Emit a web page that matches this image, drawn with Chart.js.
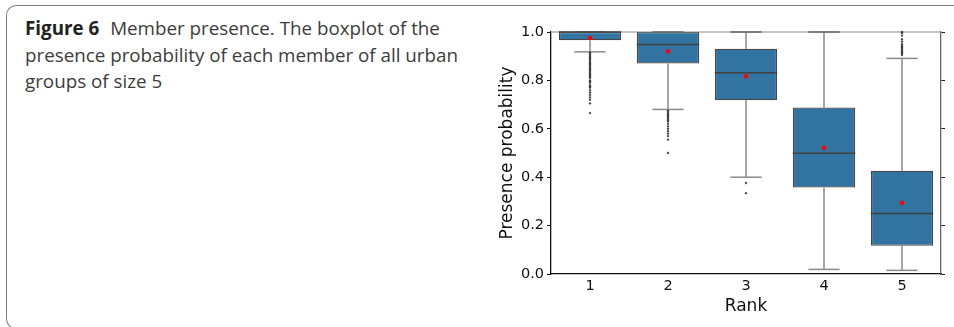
<!DOCTYPE html>
<html>
<head>
<meta charset="utf-8">
<script src="https://cdn.jsdelivr.net/npm/chart.js@4/dist/chart.umd.min.js"></script>
<style>
  html, body { margin: 0; padding: 0; background: #fff; }
  body { width: 954px; height: 327px; position: relative; overflow: hidden; }
  #frame {
    position: absolute; left: 6px; top: 5px; width: 1000px; height: 322px;
    border: 1.3px solid #7d7d7d; border-right: none;
    border-radius: 10px 0 0 10px;
  }
  #caption {
    position: absolute; left: 25px; top: 15.3px;
    font-family: "Open Sans", sans-serif; font-size: 18.8px; line-height: 26.5px;
    color: #3c3c3c; white-space: nowrap;
  }
  #caption b { font-weight: 700; color: #222; margin-right: 6px; }
  #wrap { position: absolute; left: 0; top: 0; width: 954px; height: 327px; }
</style>
</head>
<body>
<div id="frame"></div>
<div id="caption"><b>Figure 6</b> Member presence. The boxplot of the<br>presence probability of each member of all urban<br>groups of size 5</div>
<div id="wrap"><canvas id="chart"></canvas></div>
<script>
// Boxplot summary per rank
const ranks = ['1', '2', '3', '4', '5'];
const q1 = [0.966, 0.870, 0.718, 0.357, 0.117];
const q3 = [1.000, 1.000, 0.931, 0.688, 0.427];
const medians = [1.000, 0.948, 0.832, 0.499, 0.250];
const means = [0.975, 0.920, 0.817, 0.522, 0.294];
const whiskerLow = [0.918, 0.680, 0.400, 0.019, 0.015];
const whiskerHigh = [1.000, 1.000, 1.000, 1.000, 0.891];

// Fliers
const fliers1 = [0.915, 0.91, 0.905, 0.90, 0.895, 0.89, 0.885, 0.88, 0.875, 0.87, 0.865, 0.86,
  0.855, 0.85, 0.845, 0.84, 0.835, 0.83, 0.825, 0.82, 0.815, 0.81, 0.80, 0.795, 0.79, 0.78,
  0.775, 0.77, 0.76, 0.75, 0.74, 0.73, 0.72, 0.705, 0.665];
const fliers2 = [0.675, 0.67, 0.665, 0.66, 0.655, 0.65, 0.645, 0.64, 0.635, 0.63, 0.62, 0.61,
  0.60, 0.59, 0.58, 0.57, 0.555, 0.50];
const fliers3 = [0.376, 0.334];
const fliers4 = [];
const fliers5 = [1.0, 0.995, 0.985, 0.97, 0.96, 0.95, 0.945, 0.94, 0.935, 0.93, 0.925, 0.92,
  0.915, 0.91, 0.905];

const yTicks = [0, 0.2, 0.4, 0.6, 0.8, 1.0];

const flierPoints = [];
[fliers1, fliers2, fliers3, fliers4, fliers5].forEach(function(list, i) {
  list.forEach(function(v) { flierPoints.push({ x: ranks[i], y: v }); });
});
const meanPoints = ranks.map(function(r, i) { return { x: r, y: means[i] }; });

const FONT = 'DejaVu Sans';

// whiskers, caps, medians and top spine
const boxParts = {
  id: 'boxParts',
  beforeDatasetsDraw: function(chart) {
    const ctx = chart.ctx, x = chart.scales.x, y = chart.scales.y;
    const bars = chart.getDatasetMeta(0).data;
    ctx.save();
    ctx.strokeStyle = '#8a8a8a';
    ctx.lineWidth = 1.5;
    ranks.forEach(function(r, i) {
      const cx = x.getPixelForValue(i);
      const half = bars[i].width / 4;
      ctx.beginPath();
      ctx.moveTo(cx, y.getPixelForValue(q1[i]));
      ctx.lineTo(cx, y.getPixelForValue(whiskerLow[i]));
      ctx.moveTo(cx, y.getPixelForValue(q3[i]));
      ctx.lineTo(cx, y.getPixelForValue(whiskerHigh[i]));
      ctx.stroke();
      ctx.strokeStyle = whiskerHigh[i] >= 1 ? '#3f3f3f' : '#8a8a8a';
      ctx.beginPath();
      ctx.moveTo(cx - half, y.getPixelForValue(whiskerHigh[i]));
      ctx.lineTo(cx + half, y.getPixelForValue(whiskerHigh[i]));
      ctx.stroke();
      ctx.strokeStyle = '#8a8a8a';
      ctx.beginPath();
      ctx.moveTo(cx - half, y.getPixelForValue(whiskerLow[i]));
      ctx.lineTo(cx + half, y.getPixelForValue(whiskerLow[i]));
      ctx.stroke();
    });
    ctx.restore();
  },
  afterDatasetDraw: function(chart, args) {
    if (args.index !== 0) return;
    const ctx = chart.ctx, x = chart.scales.x, y = chart.scales.y;
    const bars = chart.getDatasetMeta(0).data;
    const area = chart.chartArea;
    ctx.save();
    ctx.strokeStyle = '#8a8a8a';
    ctx.lineWidth = 1;
    ctx.beginPath();
    ctx.moveTo(area.left, area.top);
    ctx.lineTo(area.right, area.top);
    ctx.stroke();
    ctx.strokeStyle = '#3f3f3f';
    ctx.lineWidth = 1.5;
    ranks.forEach(function(r, i) {
      const cx = x.getPixelForValue(i);
      const half = bars[i].width / 2;
      const my = y.getPixelForValue(medians[i]);
      ctx.beginPath();
      ctx.moveTo(cx - half, my);
      ctx.lineTo(cx + half, my);
      ctx.stroke();
    });
    ctx.restore();
  }
};

new Chart(document.getElementById('chart'), {
  type: 'bar',
  data: {
    labels: ranks,
    datasets: [
      {
        label: 'IQR',
        data: ranks.map(function(r, i) { return [q1[i], q3[i]]; }),
        backgroundColor: '#3274a1',
        borderColor: '#474747',
        borderWidth: 1.3,
        borderSkipped: false,
        categoryPercentage: 1,
        barPercentage: 0.8,
        clip: false,
        order: 3
      },
      {
        type: 'line',
        label: 'fliers',
        data: flierPoints,
        showLine: false,
        pointStyle: 'rectRot',
        pointRadius: 1.4,
        pointBorderWidth: 0,
        pointBackgroundColor: '#3a3a3a',
        clip: false,
        order: 2
      },
      {
        type: 'line',
        label: 'mean',
        data: meanPoints,
        showLine: false,
        pointStyle: 'rect',
        pointRadius: 2.8,
        pointBorderWidth: 0,
        pointBackgroundColor: '#ff0000',
        order: 1
      }
    ]
  },
  options: {
    responsive: true,
    maintainAspectRatio: false,
    animation: false,
    layout: { padding: { left: 491, right: 7, top: 32, bottom: 0 } },
    plugins: { legend: { display: false }, tooltip: { enabled: false } },
    scales: {
      x: {
        type: 'category',
        offset: true,
        grid: { display: false, drawTicks: false },
        border: { display: true, color: '#111', width: 1.3 },
        ticks: { color: '#111', padding: 4, font: { family: FONT, size: 14.5 } },
        title: { display: true, text: 'Rank', color: '#111', padding: { top: 0, bottom: 10 },
          font: { family: FONT, size: 17 } },
        afterFit: function(s) { s.height = 53; }
      },
      y: {
        min: 0, max: 1,
        afterBuildTicks: function(s) { s.ticks = yTicks.map(function(v) { return { value: v }; }); },
        grid: { drawOnChartArea: false, drawTicks: true, tickLength: 4, color: '#111' },
        border: { display: true, color: '#111', width: 1.3 },
        ticks: { color: '#111', padding: 3, font: { family: FONT, size: 14.5 },
          callback: function(v) { return v.toFixed(1); } },
        title: { display: true, text: 'Presence probability', color: '#111',
          padding: { top: 6, bottom: 0 }, font: { family: FONT, size: 17 } },
        afterFit: function(s) { s.width = 60; }
      },
      y2: {
        position: 'right',
        min: 0, max: 1,
        afterBuildTicks: function(s) { s.ticks = yTicks.map(function(v) { return { value: v }; }); },
        grid: { drawOnChartArea: false, drawTicks: true, tickLength: 4, color: '#222' },
        border: { display: true, color: '#666', width: 1.3 },
        ticks: { display: false },
        afterFit: function(s) { s.width = 6; }
      }
    }
  },
  plugins: [boxParts]
});
</script>
</body>
</html>
